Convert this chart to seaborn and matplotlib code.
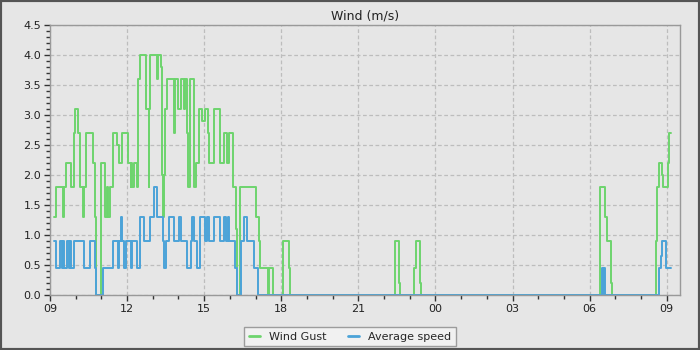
import matplotlib
matplotlib.use("Agg")
import matplotlib.pyplot as plt
import matplotlib.dates as mdates
from matplotlib.ticker import MultipleLocator, FormatStrFormatter
from matplotlib.patches import Rectangle
import seaborn as sns
import pandas as pd

# ---- data ----
gust_times = ["09:10", "09:15", "09:31", "09:33", "09:38", "09:50", "09:57", "09:59",
              "10:06", "10:11", "10:18", "10:20", "10:25", "10:41", "10:46", "10:48",
              "10:58", "11:09", "11:12", "11:16", "11:19", "11:26", "11:37", "11:40",
              "11:49", "12:01", "12:03", "12:08", "12:10", "12:12", "12:15", "12:24",
              "12:26", "12:31", "12:43", "12:50", "12:52", "12:54", "13:11", "13:13",
              "13:20", "13:22", "13:25", "13:27", "13:29", "13:34", "13:50", "13:53",
              "14:00", "14:07", "14:14", "14:16", "14:21", "14:23", "14:28", "14:37",
              "14:40", "14:47", "14:56", "15:03", "15:08", "15:12", "15:24", "15:36",
              "15:47", "15:54", "15:59", "16:08", "16:15", "16:17", "16:24", "17:02",
              "17:07", "17:11", "17:28", "17:32", "17:40", "18:04", "18:18", "18:21",
              "22:25", "22:35", "22:38", "23:11", "23:14", "23:24", "23:27", "06:24",
              "06:35", "06:40", "06:49", "06:52", "08:36", "08:38", "08:41", "08:48",
              "08:51", "09:03", "09:06", "09:10"]
gust_vals = [1.3, 1.8, 1.3, 1.8, 2.2, 1.8, 2.7, 3.1,
             2.7, 1.8, 1.3, 1.8, 2.7, 2.2, 1.3, 0.0,
             2.2, 1.3, 1.8, 1.3, 1.8, 2.7, 2.5, 2.2,
             2.7, 2.5, 2.2, 1.8, 2.2, 1.8, 2.2, 1.8,
             3.6, 4.0, 3.1, 1.8, 3.1, 4.0, 3.6, 4.0,
             3.8, 2.0, 1.3, 2.0, 3.1, 3.6, 2.7, 3.6,
             3.1, 3.6, 3.1, 3.6, 2.7, 1.8, 3.6, 1.8,
             2.2, 3.1, 2.9, 3.1, 2.7, 2.2, 3.1, 2.2,
             2.7, 2.2, 2.7, 1.8, 1.1, 0.0, 1.8, 1.3,
             0.9, 0.45, 0.0, 0.45, 0.0, 0.9, 0.45, 0.0,
             0.9, 0.2, 0.0, 0.45, 0.9, 0.2, 0.0, 1.8,
             1.3, 0.9, 0.2, 0.0, 0.9, 1.8, 2.2, 2.0,
             1.8, 2.2, 2.7, 2.7]

avg_times = ["09:10", "09:14", "09:24", "09:27", "09:30", "09:32", "09:40", "09:44",
             "09:46", "09:49", "09:57", "10:20", "10:34", "10:44", "10:48", "11:03",
             "11:26", "11:38", "11:41", "11:45", "11:48", "11:52", "11:58", "12:09",
             "12:12", "12:22", "12:29", "12:39", "12:54", "13:02", "13:09", "13:23",
             "13:27", "13:31", "13:39", "13:50", "14:02", "14:05", "14:20", "14:30",
             "14:32", "14:36", "14:43", "14:51", "15:01", "15:07", "15:12", "15:22",
             "15:36", "15:47", "15:51", "15:55", "15:59", "16:11", "16:17", "16:25",
             "16:32", "16:40", "16:56", "17:05", "06:28", "06:31", "06:33", "06:35",
             "08:42", "08:46", "08:49", "08:58", "09:10"]
avg_vals = [0.9, 0.45, 0.9, 0.45, 0.9, 0.45, 0.9, 0.45,
            0.9, 0.45, 0.9, 0.45, 0.9, 0.45, 0.0, 0.45,
            0.9, 0.45, 0.9, 1.3, 0.9, 0.45, 0.9, 0.45,
            0.9, 0.45, 1.3, 0.9, 1.3, 1.8, 1.3, 0.9,
            0.45, 0.9, 1.3, 0.9, 1.3, 0.9, 0.45, 0.9,
            1.3, 0.9, 0.45, 1.3, 0.9, 1.3, 0.9, 1.3,
            0.9, 1.3, 0.9, 1.3, 0.9, 0.45, 0.0, 0.9,
            1.3, 0.9, 0.45, 0.0, 0.45, 0.0, 0.45, 0.0,
            0.45, 0.65, 0.9, 0.45, 0.45]

series_names = ["Wind Gust", "Average speed"]
series_colors = ["#6dd46d", "#4ba3d8"]
title = "Wind (m/s)"

START = pd.Timestamp("2024-05-01 09:00")


def to_datetimes(times):
    out = []
    day = 0
    prev = None
    for t in times:
        h, m = map(int, t.split(":"))
        mins = h * 60 + m
        if prev is not None and mins < prev:
            day += 1
        prev = mins
        out.append(START.normalize() + pd.Timedelta(days=day, minutes=mins))
    return out


df = pd.concat([
    pd.DataFrame({"time": to_datetimes(gust_times), "value": gust_vals, "series": series_names[0]}),
    pd.DataFrame({"time": to_datetimes(avg_times), "value": avg_vals, "series": series_names[1]}),
], ignore_index=True)

# ---- figure ----
sns.set_theme(style="white")
plt.rcParams["font.family"] = ["DejaVu Sans"]
bg = "#e6e6e6"
fig = plt.figure(figsize=(7, 3.5), dpi=100, facecolor=bg)
ax = fig.add_axes([50 / 700, 1 - 295 / 350, 630 / 700, 270 / 350])
ax.set_facecolor(bg)

sns.lineplot(data=df, x="time", y="value", hue="series", palette=series_colors,
             hue_order=series_names, estimator=None, drawstyle="steps-post",
             linewidth=1.4, ax=ax, legend=False)

ax.set_xlim(START, START + pd.Timedelta(hours=24, minutes=31))
ax.set_ylim(0, 4.5)
ax.set_xlabel("")
ax.set_ylabel("")
ax.set_title(title, fontsize=9, color="#222222", pad=4)

ax.xaxis.set_major_locator(mdates.HourLocator(byhour=range(0, 24, 3)))
ax.xaxis.set_minor_locator(mdates.HourLocator())
ax.xaxis.set_major_formatter(mdates.DateFormatter("%H"))
ax.yaxis.set_major_locator(MultipleLocator(0.5))
ax.yaxis.set_minor_locator(MultipleLocator(0.1))
ax.yaxis.set_major_formatter(FormatStrFormatter("%.1f"))

ax.tick_params(axis="both", which="major", direction="out", length=4.5, width=1,
               color="#333333", labelsize=8, labelcolor="#222222", pad=2,
               bottom=True, left=True)
ax.tick_params(axis="both", which="minor", direction="out", length=3, width=1,
               color="#333333", bottom=True, left=True)

ax.grid(True, which="major", linestyle=(0, (3, 2)), color="#bdbdbd", linewidth=0.9)
for s in ax.spines.values():
    s.set_color("#999999")
    s.set_linewidth(1)

handles = [plt.Line2D([], [], color=c, linewidth=2) for c in series_colors]
leg = fig.legend(handles, series_names, loc="lower center", ncol=2,
                 bbox_to_anchor=(0.5, -0.005), fontsize=8, frameon=True,
                 fancybox=False, handlelength=1.0, columnspacing=2.0,
                 borderpad=0.4, handletextpad=0.8)
leg.get_frame().set_facecolor("#f4f4f4")
leg.get_frame().set_edgecolor("#888888")
leg.get_frame().set_linewidth(1)

fig.patches.append(Rectangle((0, 0), 1, 1, transform=fig.transFigure, fill=False,
                             edgecolor="#555555", linewidth=3, zorder=10))

fig.savefig("out.png", dpi=100, facecolor=bg)
